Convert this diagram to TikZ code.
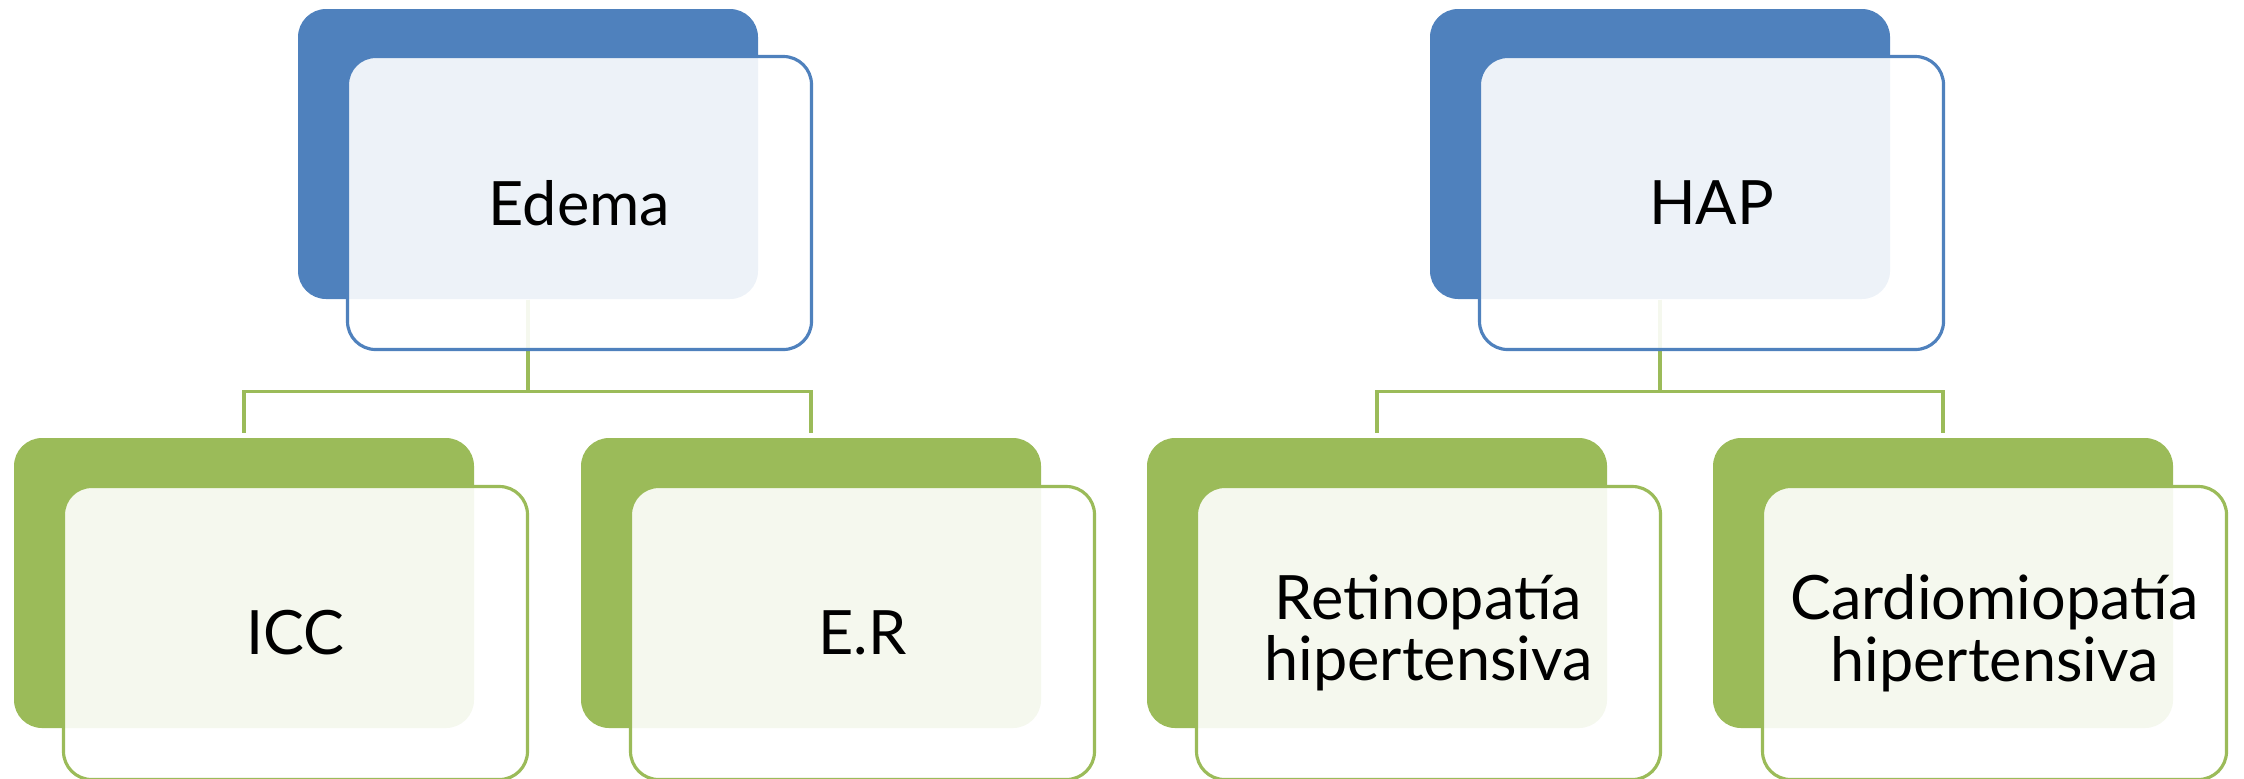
\documentclass[tikz,border=0pt]{standalone}
\usepackage{xcolor}
\usepackage{fontspec}
\setmainfont{Lato}
\usepackage{tikz}
\usetikzlibrary{positioning,calc,backgrounds}
\definecolor{accentBlue}{HTML}{4F81BD}
\definecolor{accentGreen}{HTML}{9BBB59}

\begin{document}
\begin{tikzpicture}[
    backbox/.style={fill=#1,rounded corners=8pt,minimum width=4.6cm,minimum height=2.9cm,inner sep=0pt},
    frontbox/.style={draw=#1,line width=0.9pt,fill=white,fill opacity=0.9,text opacity=1,rounded corners=8pt,
      minimum width=4.64cm,minimum height=2.93cm,inner sep=2pt,align=center,
      font=\fontsize{17.4}{17.5}\selectfont},
    conn/.style={draw=accentGreen,line width=0.9pt}
  ]
    \useasboundingbox (0,0) rectangle (22.44,7.78);

    % back plates
    \node[backbox=accentBlue] (edemaB) at (5.28,6.24) {};
    \node[backbox=accentBlue] (hapB) at (16.60,6.24) {};
    \node[backbox=accentGreen] (iccB) at (2.44,1.95) {};
    \node[backbox=accentGreen] (erB) at (8.11,1.95) {};
    \node[backbox=accentGreen] (retB) at (13.77,1.95) {};
    \node[backbox=accentGreen] (cardB) at (19.43,1.95) {};

    % front cards
    \node[frontbox=accentBlue] (edema) at ($(edemaB)+(0.515,-0.49)$) {Edema};
    \node[frontbox=accentBlue] (hap) at ($(hapB)+(0.515,-0.49)$) {HAP};
    \node[frontbox=accentGreen] (icc) at ($(iccB)+(0.515,-0.5)$) {ICC};
    \node[frontbox=accentGreen] (er) at ($(erB)+(0.515,-0.5)$) {E.R};
    \node[frontbox=accentGreen] (ret) at ($(retB)+(0.515,-0.5)$) {Retinopatía\\hipertensiva};
    \node[frontbox=accentGreen] (card) at ($(cardB)+(0.515,-0.5)$) {Cardiomiopatía\\hipertensiva};

    \begin{scope}[on background layer]
      \draw[conn] (edemaB.south) -- ++(0,-0.915) -| ($(iccB.north)+(0,0.04)$);
      \draw[conn] (edemaB.south) -- ++(0,-0.915) -| ($(erB.north)+(0,0.04)$);
      \draw[conn] (hapB.south) -- ++(0,-0.915) -| ($(retB.north)+(0,0.04)$);
      \draw[conn] (hapB.south) -- ++(0,-0.915) -| ($(cardB.north)+(0,0.04)$);
    \end{scope}
  \end{tikzpicture}
\end{document}
